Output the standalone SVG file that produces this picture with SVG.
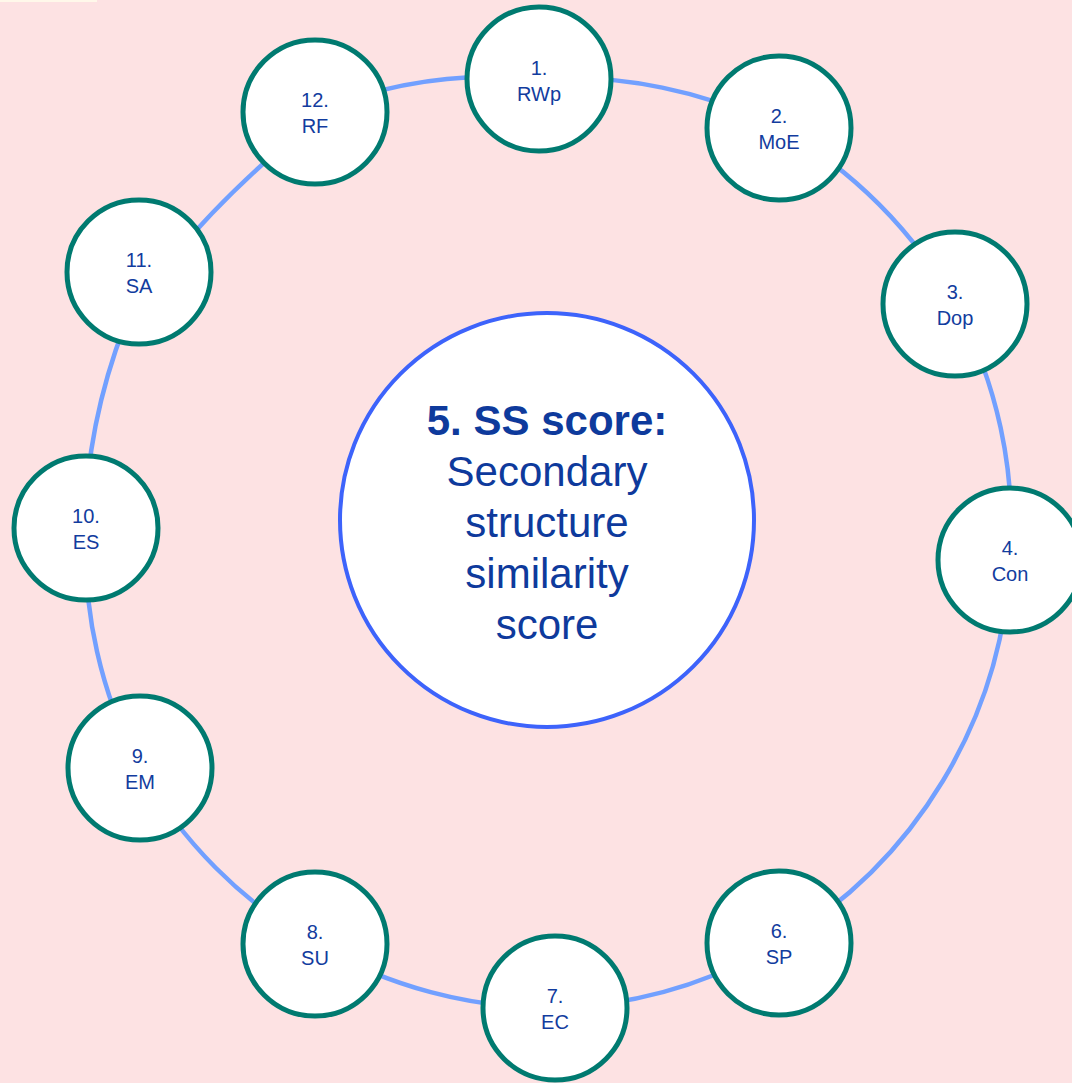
<svg xmlns="http://www.w3.org/2000/svg" width="1072" height="1083" viewBox="0 0 1072 1083">
<style>
.bg{fill:#fde2e3}
.conn{fill:none;stroke:#72a0ff;stroke-width:4.5}
.node{fill:#ffffff;stroke:#007a70;stroke-width:5}
.hub{fill:#ffffff;stroke:#3d63fb;stroke-width:4}
.lbl{font-family:"Liberation Sans",Arial,sans-serif;font-size:20px;fill:#123c9e;text-anchor:middle}
.big{font-family:"Liberation Sans",Arial,sans-serif;font-size:42px;fill:#0e3a9c;text-anchor:middle}
.bold{font-weight:bold}
</style>
<rect class="bg" x="0" y="0" width="1072" height="1083"/>
<rect x="0" y="0" width="97" height="2" fill="#fff8ea"/>
<g id="connectors">
<path class="conn" d="M539 79 A470 470 0 0 1 779 128"/>
<path class="conn" d="M779 128 A470 470 0 0 1 955 304"/>
<path class="conn" d="M955 304 A470 470 0 0 1 1010 560"/>
<path class="conn" d="M1010 560 A470 470 0 0 1 779 943"/>
<path class="conn" d="M779 943 A470 470 0 0 1 555 1008"/>
<path class="conn" d="M555 1008 A470 470 0 0 1 315 944"/>
<path class="conn" d="M315 944 A470 470 0 0 1 140 768"/>
<path class="conn" d="M140 768 A470 470 0 0 1 86 528"/>
<path class="conn" d="M86 500 Q92 400 135 300"/>
<path class="conn" d="M175 255 Q220 200 290 140"/>
<path class="conn" d="M315 112 A470 470 0 0 1 539 79"/>
</g>
<g id="node5">
<circle class="hub" cx="547" cy="520" r="207"/>
<text class="big bold" x="547" y="435">5. SS score:</text>
<text class="big" x="547" y="486">Secondary</text>
<text class="big" x="547" y="537">structure</text>
<text class="big" x="547" y="588">similarity</text>
<text class="big" x="547" y="639">score</text>
</g>
<g id="node1"><circle class="node" cx="539" cy="79" r="72"/><text class="lbl" x="539" y="75">1.</text><text class="lbl" x="539" y="101">RWp</text></g>
<g id="node2"><circle class="node" cx="779" cy="128" r="72"/><text class="lbl" x="779" y="123">2.</text><text class="lbl" x="779" y="149">MoE</text></g>
<g id="node3"><circle class="node" cx="955" cy="304" r="72"/><text class="lbl" x="955" y="299">3.</text><text class="lbl" x="955" y="325">Dop</text></g>
<g id="node4"><circle class="node" cx="1010" cy="560" r="72"/><text class="lbl" x="1010" y="555">4.</text><text class="lbl" x="1010" y="581">Con</text></g>
<g id="node6"><circle class="node" cx="779" cy="943" r="72"/><text class="lbl" x="779" y="938">6.</text><text class="lbl" x="779" y="964">SP</text></g>
<g id="node7"><circle class="node" cx="555" cy="1008" r="72"/><text class="lbl" x="555" y="1003">7.</text><text class="lbl" x="555" y="1029">EC</text></g>
<g id="node8"><circle class="node" cx="315" cy="944" r="72"/><text class="lbl" x="315" y="939">8.</text><text class="lbl" x="315" y="965">SU</text></g>
<g id="node9"><circle class="node" cx="140" cy="768" r="72"/><text class="lbl" x="140" y="763">9.</text><text class="lbl" x="140" y="789">EM</text></g>
<g id="node10"><circle class="node" cx="86" cy="528" r="72"/><text class="lbl" x="86" y="523">10.</text><text class="lbl" x="86" y="549">ES</text></g>
<g id="node11"><circle class="node" cx="139" cy="272" r="72"/><text class="lbl" x="139" y="267">11.</text><text class="lbl" x="139" y="293">SA</text></g>
<g id="node12"><circle class="node" cx="315" cy="112" r="72"/><text class="lbl" x="315" y="107">12.</text><text class="lbl" x="315" y="133">RF</text></g>
</svg>
